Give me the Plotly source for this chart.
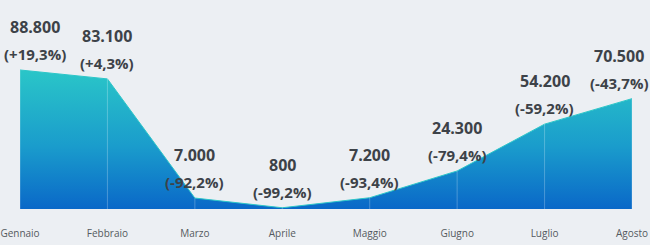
import plotly.graph_objects as go

months = ["Gennaio", "Febbraio", "Marzo", "Aprile", "Maggio", "Giugno", "Luglio", "Agosto"]
values = [88800, 83100, 7000, 800, 7200, 24300, 54200, 70500]
value_labels = ["88.800", "83.100", "7.000", "800", "7.200", "24.300", "54.200", "70.500"]
pct_labels = ["(+19,3%)", "(+4,3%)", "(-92,2%)", "(-99,2%)", "(-93,4%)", "(-79,4%)", "(-59,2%)", "(-43,7%)"]

xs = list(range(len(months)))

fig = go.Figure()
fig.add_trace(go.Scatter(
    x=xs, y=values, mode="lines", fill="tozeroy",
    line=dict(color="#2cc6c8", width=1),
    fillgradient=dict(type="vertical",
                      colorscale=[[0, "#0a68c8"], [0.45, "#1a9ccc"], [1, "#2ac6c8"]]),
    hoverinfo="skip", showlegend=False,
))
for x, v in zip(xs, values):
    fig.add_trace(go.Scatter(
        x=[x, x], y=[0, v], mode="lines",
        line=dict(color="rgba(255,255,255,0.25)", width=1),
        hoverinfo="skip", showlegend=False,
    ))

dark = "#3d4248"
n = len(months)
for i, (x, v, vl, pl) in enumerate(zip(xs, values, value_labels, pct_labels)):
    if i == 0:
        xshift = 15
    elif i == n - 1:
        xshift = -13
    else:
        xshift = 0
    fig.add_annotation(x=x, y=v, text=pl, showarrow=False, xanchor="center", yanchor="bottom",
                       xshift=xshift, yshift=4,
                       font=dict(family="Open Sans", size=15, color=dark, weight="bold"))
    fig.add_annotation(x=x, y=v, text=vl, showarrow=False, xanchor="center", yanchor="bottom",
                       xshift=xshift, yshift=30,
                       font=dict(family="Open Sans", size=16, color=dark, weight="bold"))

fig.update_layout(
    width=650, height=245,
    margin=dict(l=20, r=18, t=0, b=36),
    paper_bgcolor="#eceff3", plot_bgcolor="#eceff3",
    xaxis=dict(range=[0, n - 1], tickvals=xs, ticktext=months, showgrid=False, zeroline=False,
               showline=False, ticks="outside", ticklen=15, tickcolor="rgba(0,0,0,0)",
               tickfont=dict(family="Open Sans", size=10, color="#555a60")),
    yaxis=dict(range=[0, 133500], visible=False, showgrid=False, zeroline=False),
)

fig.write_html("out.html")
